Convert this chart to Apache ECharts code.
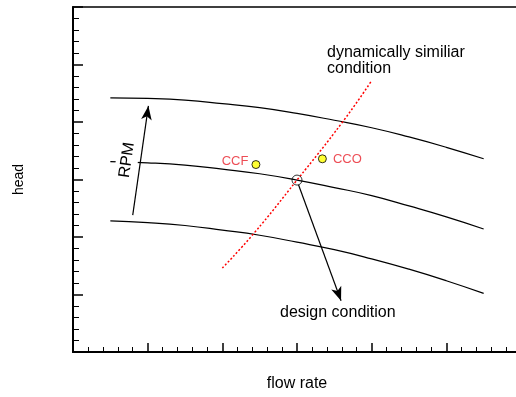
<!DOCTYPE html>
<html>
<head>
<meta charset="utf-8">
<script src="https://cdn.jsdelivr.net/npm/echarts@6/dist/echarts.min.js"></script>
<style>
  html, body { margin: 0; padding: 0; background: #fff; }
  #main { width: 516px; height: 397px; }
</style>
</head>
<body>
<div id="main"></div>
<script>
var chart = echarts.init(document.getElementById('main'));

// pump curves (flow rate, head)
var curveHigh = [[0.5, 4.42], [1.0, 4.41], [1.5, 4.38], [2.0, 4.32], [2.5, 4.25], [3.0, 4.15],
    [3.5, 4.03], [4.0, 3.90], [4.5, 3.74], [5.0, 3.56], [5.5, 3.36]];
var curveMid = [[0.5, 3.31], [1.0, 3.29], [1.5, 3.25], [2.0, 3.18], [2.5, 3.10], [3.0, 2.99],
    [3.5, 2.86], [4.0, 2.72], [4.5, 2.54], [5.0, 2.35], [5.5, 2.14]];
var curveLow = [[0.5, 2.28], [1.0, 2.25], [1.5, 2.20], [2.0, 2.12], [2.5, 2.03], [3.0, 1.91],
    [3.5, 1.78], [4.0, 1.62], [4.5, 1.44], [5.0, 1.24], [5.5, 1.02]];

// dynamically similar condition (red dotted)
var similarLine = [[2.0, 1.46], [2.42, 2.06], [3.0, 2.99], [3.61, 4.0], [3.99, 4.70]];

var pointNames = ['CCF', 'CCO'];
var pointValues = [[2.45, 3.26], [3.34, 3.36]];
var designPoint = [3.0, 2.99];

var rpmArrow = [[0.80, 2.38], [1.01, 4.28]];
var designArrow = [[3.02, 2.91], [3.59, 0.89]];

var FONT = 'Liberation Sans, Arial, sans-serif';

var curveStyle = { color: '#000', width: 1.2 };

var option = {
    animation: false,
    grid: {
        left: 73,
        top: 7,
        width: 448,
        height: 345,
        outerBoundsMode: 'none',
        show: true,
        borderColor: '#000',
        borderWidth: 1.5
    },
    xAxis: {
        type: 'value',
        min: 0,
        max: 6,
        interval: 1,
        name: 'flow rate',
        nameLocation: 'middle',
        nameGap: 24,
        nameTextStyle: { fontFamily: FONT, fontSize: 16, color: '#000' },
        axisLine: { lineStyle: { color: '#000', width: 2 } },
        axisTick: { inside: true, length: 9, lineStyle: { color: '#000', width: 1.5 } },
        minorTick: { show: true, splitNumber: 5, length: 5, lineStyle: { color: '#000', width: 1 } },
        axisLabel: { show: false },
        splitLine: { show: false }
    },
    yAxis: {
        type: 'value',
        min: 0,
        max: 6,
        interval: 1,
        name: 'head',
        nameLocation: 'middle',
        nameGap: 47,
        nameTextStyle: { fontFamily: FONT, fontSize: 14, color: '#000' },
        axisLine: { lineStyle: { color: '#000', width: 2 } },
        axisTick: { inside: true, length: 10, lineStyle: { color: '#000', width: 1.5 } },
        minorTick: { show: true, splitNumber: 5, length: 6, lineStyle: { color: '#000', width: 1 } },
        axisLabel: { show: false },
        splitLine: { show: false }
    },
    series: [
        {
            type: 'line', data: curveHigh, smooth: true, showSymbol: false,
            lineStyle: curveStyle, silent: true
        },
        {
            type: 'line', data: curveMid, smooth: true, showSymbol: false,
            lineStyle: curveStyle, silent: true
        },
        {
            type: 'line', data: curveLow, smooth: true, showSymbol: false,
            lineStyle: curveStyle, silent: true
        },
        {
            type: 'line', data: similarLine, smooth: true, showSymbol: false, silent: true,
            lineStyle: { color: '#ff0000', width: 1.5, type: [2, 2] }
        },
        {
            // arrows
            type: 'line', data: [], silent: true,
            markLine: {
                silent: true,
                symbol: ['none', 'arrow'],
                symbolSize: [8, 14],
                label: { show: false },
                lineStyle: { color: '#000', width: 1.2, type: 'solid' },
                data: [
                    [{ coord: rpmArrow[0] }, { coord: rpmArrow[1] }],
                    [{ coord: designArrow[0] }, { coord: designArrow[1] }]
                ]
            }
        },
        {
            type: 'scatter', silent: true, z: 6,
            symbol: 'circle', symbolSize: 10,
            itemStyle: { color: 'rgba(0,0,0,0)', borderColor: '#000', borderWidth: 1 },
            data: [designPoint]
        },
        {
            type: 'scatter', silent: true, z: 6,
            symbol: 'circle', symbolSize: 8,
            itemStyle: { color: '#ffff00', borderColor: '#000', borderWidth: 1 },
            label: {
                show: true,
                formatter: '{b}',
                fontFamily: FONT,
                fontSize: 13,
                color: '#e8202a'
            },
            data: pointNames.map(function (n, i) {
                return {
                    name: n,
                    value: pointValues[i],
                    label: i === 0
                        ? { position: 'left', distance: 3, offset: [0, -3] }
                        : { position: 'right', distance: 6, offset: [0, 1] }
                };
            })
        }
    ],
    graphic: [
        {
            type: 'text',
            x: 327,
            y: 45,
            z: 10,
            style: {
                text: 'dynamically similiar\ncondition',
                font: '16px ' + FONT,
                lineHeight: 16,
                fill: '#000',
                textAlign: 'left',
                verticalAlign: 'top'
            }
        },
        {
            type: 'text',
            x: 280,
            y: 313,
            z: 10,
            style: {
                text: 'design condition',
                font: '16px ' + FONT,
                fill: '#000',
                textAlign: 'left',
                verticalAlign: 'middle'
            }
        },
        {
            type: 'text',
            x: 127,
            y: 160,
            z: 4,
            rotation: 1.428,
            style: {
                text: 'RPM',
                font: '16px ' + FONT,
                fill: '#000',
                textAlign: 'center',
                verticalAlign: 'middle',
                backgroundColor: '#fff',
                padding: [3, 2, 3, 2]
            }
        }
    ]
};

chart.setOption(option);
</script>
</body>
</html>
